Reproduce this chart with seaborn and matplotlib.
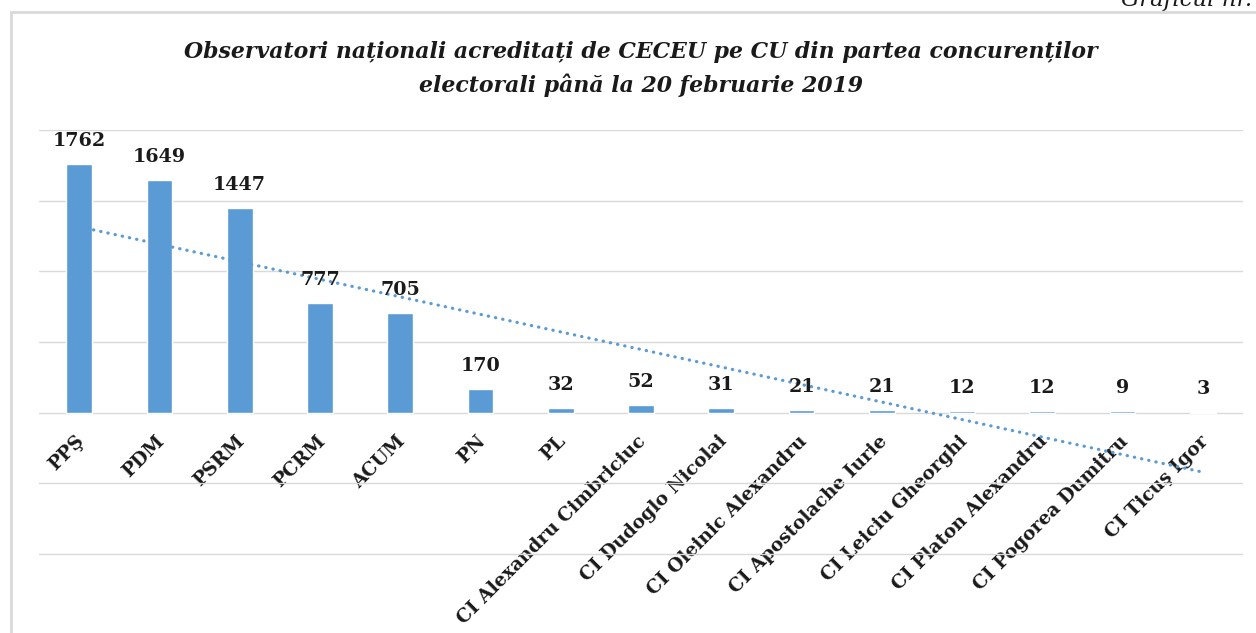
import numpy as np
import pandas as pd
import matplotlib
matplotlib.use("Agg")
import matplotlib.pyplot as plt
import matplotlib.transforms as mtransforms
import seaborn as sns
from matplotlib.patches import Rectangle

# date
candidati = ["PPŞ", "PDM", "PSRM", "PCRM", "ACUM", "PN", "PL",
             "CI Alexandru Cimbriciuc", "CI Dudoglo Nicolai",
             "CI Oleinic Alexandru", "CI Apostolache Iurie",
             "CI Leiciu Gheorghi", "CI Platon Alexandru",
             "CI Pogorea Dumitru", "CI Ticuş Igor"]
observatori = [1762, 1649, 1447, 777, 705, 170, 32, 52, 31, 21, 21, 12, 12, 9, 3]

titlu = ("Observatori naționali acreditați de CECEU pe CU din partea concurenților\n"
         "electorali până la 20 februarie 2019")

albastru = "#5B9BD5"
df = pd.DataFrame({"cand": candidati, "obs": observatori})

sns.set_style("white")
plt.rcParams["font.family"] = ["DejaVu Serif"]

fig = plt.figure(figsize=(12.56, 6.33), dpi=100)
ax = fig.add_axes([39 / 1256, 0, 1204 / 1256, 503 / 633])

sns.barplot(data=df, x="cand", y="obs", color=albastru, saturation=1,
            width=0.32, ax=ax, zorder=2)
# linia de tendinta (regresie liniara)
sns.regplot(x=np.arange(len(observatori)), y=df["obs"].values, scatter=False,
            ci=None, truncate=True, ax=ax,
            line_kws=dict(color=albastru, lw=2.3, ls=(0, (0.1, 2.2)),
                          dash_capstyle="round", zorder=3))

ax.bar_label(ax.containers[0], padding=10, fontsize=13.8, fontweight="bold",
             color="#1a1a1a")

ax.set_ylim(-1560, 2000)
ax.set_xlim(-0.5, len(candidati) - 0.5)
ax.set_yticks(np.arange(-1000, 2001, 500))
ax.set_yticklabels([])
ax.tick_params(axis="y", length=0)
ax.grid(axis="y", color="#D9D9D9", lw=1, zorder=0)
ax.set_axisbelow(True)
for s in ax.spines.values():
    s.set_visible(False)
# etichetele axei x pe linia de zero
ax.spines["bottom"].set_position(("data", 0))
ax.tick_params(axis="x", length=0, pad=14)
ax.set_xlabel("")
ax.set_ylabel("")
ax.set_xticks(range(len(candidati)))
ax.set_xticklabels(candidati, rotation=45, ha="right", va="top",
                   rotation_mode="anchor", fontsize=13.4, fontweight="bold",
                   color="#1a1a1a")
dx = mtransforms.ScaledTranslation(-4 / 100, 0, fig.dpi_scale_trans)
for lbl in ax.get_xticklabels():
    lbl.set_transform(lbl.get_transform() + dx)

fig.text(641 / 1256, 1 - 69 / 633, titlu, ha="center", va="center",
         fontsize=15.8, fontweight="bold", fontstyle="italic", color="#1a1a1a",
         linespacing=1.6)
fig.text(1252 / 1256, 1 - 6 / 633, "Graficul nr.", ha="right", va="baseline",
         fontsize=16.5, fontstyle="italic", color="#1a1a1a")

fig.patches.append(Rectangle((11 / 1256, -0.1), 1.2, 1 - 12 / 633 + 0.1,
                             transform=fig.transFigure, fill=False,
                             edgecolor="#D9D9D9", lw=2))

fig.savefig("out.png", dpi=100)
